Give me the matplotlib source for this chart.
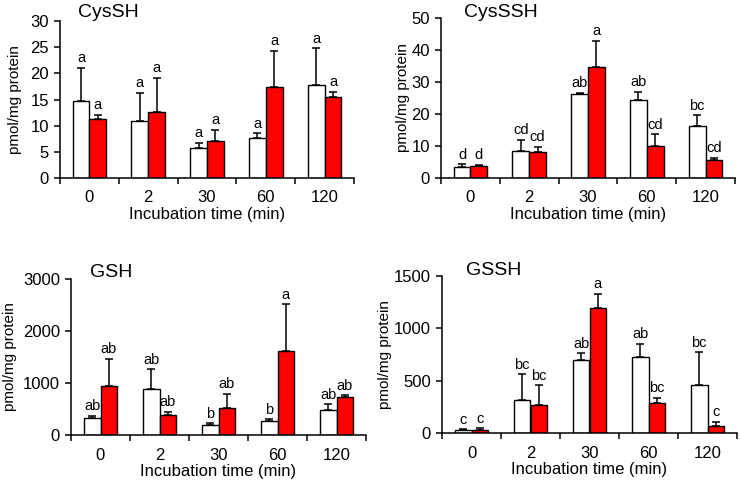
import matplotlib
matplotlib.use('Agg')
import matplotlib.pyplot as plt
import numpy as np

plt.rcParams['font.family'] = ['Liberation Sans', 'DejaVu Sans']

times = ['0', '2', '30', '60', '120']

# CysSH
cyssh_white = [14.7, 10.9, 5.75, 7.6, 17.7]
cyssh_white_err = [6.4, 5.4, 0.95, 0.95, 7.1]
cyssh_red = [11.2, 12.6, 7.1, 17.3, 15.45]
cyssh_red_err = [0.9, 6.6, 2.15, 7.0, 1.05]
cyssh_white_sig = ['a', 'a', 'a', 'a', 'a']
cyssh_red_sig = ['a', 'a', 'a', 'a', 'a']

# CysSSH
cysssh_white = [3.4, 8.4, 26.1, 24.3, 16.3]
cysssh_white_err = [0.9, 3.5, 0.6, 2.6, 3.3]
cysssh_red = [3.9, 8.1, 34.8, 10.0, 5.7]
cysssh_red_err = [0.3, 1.6, 8.1, 3.6, 0.7]
cysssh_white_sig = ['d', 'cd', 'ab', 'ab', 'bc']
cysssh_red_sig = ['d', 'cd', 'a', 'cd', 'cd']

# GSH
gsh_white = [335, 882, 193, 277, 477]
gsh_white_err = [32, 380, 32, 26, 115]
gsh_red = [947, 380, 522, 1616, 734]
gsh_red_err = [521, 64, 276, 902, 26]
gsh_white_sig = ['ab', 'ab', 'b', 'b', 'ab']
gsh_red_sig = ['ab', 'ab', 'ab', 'a', 'ab']

# GSSH
gssh_white = [30, 316, 702, 728, 457]
gssh_white_err = [4, 246, 58, 124, 316]
gssh_red = [33, 268, 1197, 291, 67]
gssh_red_err = [12, 188, 134, 48, 42]
gssh_white_sig = ['c', 'bc', 'ab', 'ab', 'bc']
gssh_red_sig = ['c', 'bc', 'a', 'bc', 'c']

W, H = 740, 483
fig = plt.figure(figsize=(W / 100, H / 100), dpi=100)


def px_axes(left, right, top, bottom):
    return fig.add_axes([left / W, 1 - bottom / H, (right - left) / W, (bottom - top) / H])


def draw_panel(ax, title, white, white_err, red, red_err, wsig, rsig,
               ymax, ystep, title_pos, ylab_x):
    x = np.arange(len(times))
    w = 0.285
    ax.bar(x - w / 2, white, w, color='white', edgecolor='black', linewidth=1.0, zorder=2)
    ax.bar(x + w / 2, red, w, color='#ff0000', edgecolor='black', linewidth=1.0, zorder=2)
    zeros = np.zeros(len(times))
    ax.errorbar(x - w / 2, white, yerr=[zeros, white_err], fmt='none', ecolor='black',
                elinewidth=1.1, capsize=2.6, capthick=1.1, zorder=1)
    ax.errorbar(x + w / 2, red, yerr=[zeros, red_err], fmt='none', ecolor='black',
                elinewidth=1.1, capsize=2.6, capthick=1.1, zorder=1)
    for i in range(len(times)):
        ax.annotate(wsig[i], (x[i] - w / 2, white[i] + white_err[i]), xytext=(0, 4),
                    textcoords='offset points', ha='center', va='baseline', fontsize=10.5)
        ax.annotate(rsig[i], (x[i] + w / 2, red[i] + red_err[i]), xytext=(0, 4),
                    textcoords='offset points', ha='center', va='baseline', fontsize=10.5)

    ax.set_xlim(-0.5, len(times) - 0.5)
    ax.set_ylim(0, ymax)
    ax.set_yticks(np.arange(0, ymax + ystep / 2, ystep))
    ax.set_xticks(np.arange(-0.5, len(times), 1))
    ax.set_xticklabels([])
    ax.set_xticks(x, minor=True)
    ax.set_xticklabels(times, minor=True)
    ax.tick_params(axis='x', which='major', direction='out', length=4, width=1.1)
    ax.tick_params(axis='x', which='minor', length=0, pad=9, labelsize=12)
    ax.tick_params(axis='y', direction='out', length=4, width=1.1, pad=4, labelsize=12)
    for s in ['top', 'right']:
        ax.spines[s].set_visible(False)
    for s in ['left', 'bottom']:
        ax.spines[s].set_linewidth(1.1)

    ax.set_xlabel('Incubation time (min)', fontsize=12, labelpad=1)
    ax.set_ylabel('pmol/mg protein', fontsize=11)
    ax.yaxis.set_label_coords(ylab_x, 0.5)
    ax.text(title_pos[0], title_pos[1], title, transform=ax.transAxes,
            fontsize=14, ha='left', va='baseline')


ax1 = px_axes(60, 354, 21, 178)
draw_panel(ax1, 'CysSH', cyssh_white, cyssh_white_err, cyssh_red, cyssh_red_err,
           cyssh_white_sig, cyssh_red_sig, 30, 5, (0.061, 1.025), -0.128)

ax2 = px_axes(441, 735, 18, 178)
draw_panel(ax2, 'CysSSH', cysssh_white, cysssh_white_err, cysssh_red, cysssh_red_err,
           cysssh_white_sig, cysssh_red_sig, 50, 10, (0.078, 1.006), -0.105)

ax3 = px_axes(71, 366, 279, 435)
draw_panel(ax3, 'GSH', gsh_white, gsh_white_err, gsh_red, gsh_red_err,
           gsh_white_sig, gsh_red_sig, 3000, 1000, (0.064, 1.015), -0.183)

ax4 = px_axes(442, 737, 276, 433)
draw_panel(ax4, 'GSSH', gssh_white, gssh_white_err, gssh_red, gssh_red_err,
           gssh_white_sig, gssh_red_sig, 1500, 500, (0.08, 1.006), -0.169)

fig.savefig('out.png', dpi=100)
